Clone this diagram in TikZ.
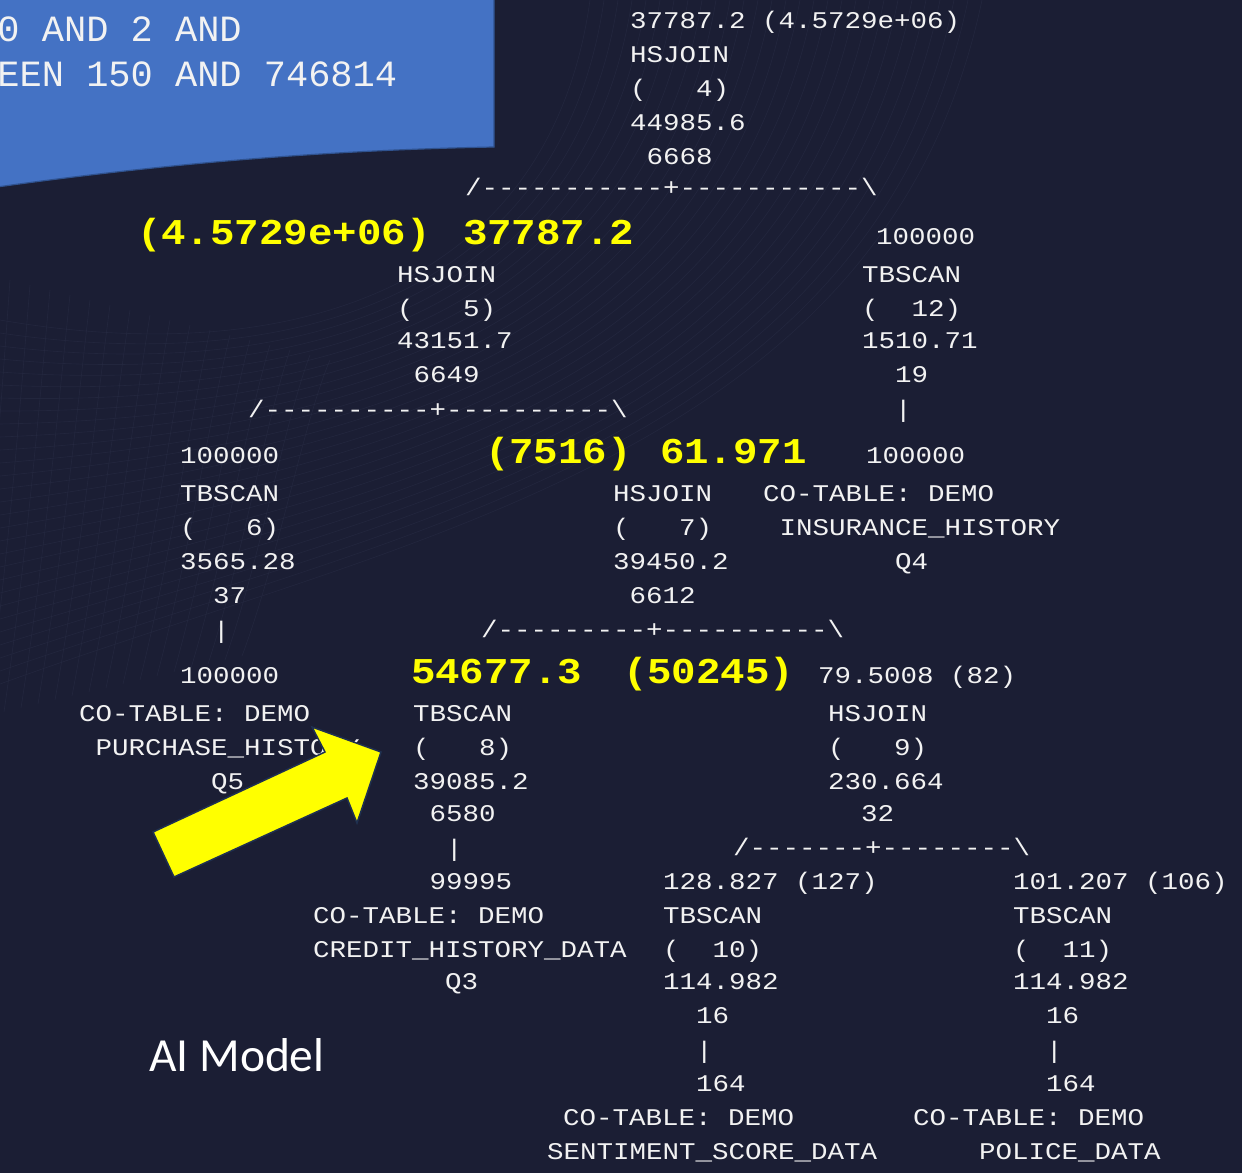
\documentclass[tikz,border=0pt]{standalone}
\usepackage{fontspec}
\usepackage{graphicx}
\newfontfamily\monof[Ligatures=TeXOff]{Liberation Mono}
\newfontfamily\calib{Carlito}
\definecolor{bgc}{HTML}{1B1E34}
\definecolor{meshc}{HTML}{262A42}
\definecolor{boxblue}{HTML}{4472C4}
\definecolor{boxedge}{HTML}{2F528F}
\definecolor{arrowedge}{HTML}{1F3050}
\definecolor{hiyel}{HTML}{FFFF00}
\definecolor{txtw}{HTML}{F2F2F2}
\tikzset{
  wtxt/.style={anchor=base west, inner sep=0pt, outer sep=0pt, text=txtw,
    font=\monof\fontsize{27.5}{33}\selectfont},
  ytxt/.style={anchor=base west, inner sep=0pt, outer sep=0pt, text=hiyel,
    font=\monof\bfseries\fontsize{40.8}{48}\selectfont},
  boxtxt/.style={anchor=base west, inner sep=0pt, outer sep=0pt, text=txtw,
    font=\monof\fontsize{37}{44}\selectfont},
  meshline/.style={draw=meshc, line width=0.6pt, opacity=0.7},
}
\newcommand\W[4]{\node[wtxt] (#1) at (#2,#3) {\scalebox{1}[0.87]{#4}};}
\newcommand\Y[4]{\node[ytxt] (#1) at (#2,#3) {\scalebox{1}[0.89]{#4}};}
\begin{document}
\begin{tikzpicture}[x=1pt,y=-1pt]
\useasboundingbox (0,0) rectangle (1242,1173);
\fill[bgc] (0,0) rectangle (1242,1173);
% faint background mesh
\foreach \i in {0,...,28} {
  \draw[meshline] (590+14*\i,0) .. controls (550+12*\i,290+6*\i) and (290+4*\i,370+6*\i) .. (0,320+13*\i);
}
\foreach \j in {0,...,16} {
  \draw[meshline] (10+20*\j,280+5*\j) .. controls (0+19*\j,420) and (-10+18*\j,560) .. (-30+17*\j,720-4*\j);
}
% blue box
\filldraw[fill=boxblue, draw=boxedge, line width=1.2pt]
  (-3,-3) -- (494,-3) -- (494,147) .. controls (330,150) and (170,163) .. (-3,187) -- cycle;
\node[boxtxt] (b1) at (-2.5,41) {0 AND 2 AND};
\node[boxtxt] (b2) at (-2.5,86) {EEN 150 AND 746814};
% top HSJOIN (4)
\W{n4a}{630}{28}{37787.2 (4.5729e+06)}
\W{n4b}{630}{62}{HSJOIN}
\W{n4c}{630}{96}{(~~~4)}
\W{n4d}{630}{130}{44985.6}
\W{n4e}{630}{164}{~6668}
\W{l4}{465}{195}{/-----------+-----------\textbackslash}
% HSJOIN (5)
\Y{y5a}{137}{244}{(4.5729e+06)}
\Y{y5b}{463}{244}{37787.2}
\W{n5b}{397}{282}{HSJOIN}
\W{n5c}{397}{316}{(~~~5)}
\W{n5d}{397}{348}{43151.7}
\W{n5e}{397}{382}{~6649}
\W{l5}{248}{417}{/----------+----------\textbackslash}
% TBSCAN (12)
\W{n12a}{876}{244}{100000}
\W{n12b}{862}{282}{TBSCAN}
\W{n12c}{862}{316}{(~~12)}
\W{n12d}{862}{348}{1510.71}
\W{n12e}{862}{382}{~~19}
\W{n12f}{862}{417}{~~|}
\W{q4a}{866}{463}{100000}
\W{q4b}{763}{501}{CO-TABLE: DEMO}
\W{q4c}{763}{535}{~INSURANCE\_HISTORY}
\W{q4d}{763}{569}{~~~~~~~~Q4}
% TBSCAN (6)
\W{n6a}{180}{463}{100000}
\W{n6b}{180}{501}{TBSCAN}
\W{n6c}{180}{535}{(~~~6)}
\W{n6d}{180}{569}{3565.28}
\W{n6e}{180}{603}{~~37}
\W{n6f}{180}{638}{~~|}
\W{q5a}{180}{683}{100000}
\W{q5b}{79}{721}{CO-TABLE: DEMO}
\W{q5c}{79}{755}{~PURCHASE\_HISTORY}
\W{q5d}{79}{789}{~~~~~~~~Q5}
% HSJOIN (7)
\Y{y7a}{485}{463}{(7516)}
\Y{y7b}{660}{463}{61.971}
\W{n7b}{613}{501}{HSJOIN}
\W{n7c}{613}{535}{(~~~7)}
\W{n7d}{613}{569}{39450.2}
\W{n7e}{613}{603}{~6612}
\W{l7}{481}{637}{/---------+----------\textbackslash}
% TBSCAN (8)
\Y{y8a}{411}{683}{54677.3}
\Y{y8b}{623}{683}{(50245)}
\W{n8b}{413}{721}{TBSCAN}
\W{n8c}{413}{755}{(~~~8)}
\W{n8d}{413}{789}{39085.2}
\W{n8e}{413}{821}{~6580}
\W{n8f}{413}{856}{~~|}
\W{q3a}{413}{889}{~99995}
\W{q3b}{313}{923}{CO-TABLE: DEMO}
\W{q3c}{313}{957}{CREDIT\_HISTORY\_DATA}
\W{q3d}{313}{989}{~~~~~~~~Q3}
% HSJOIN (9)
\W{n9a}{818}{683}{79.5008 (82)}
\W{n9b}{828}{721}{HSJOIN}
\W{n9c}{828}{755}{(~~~9)}
\W{n9d}{828}{789}{230.664}
\W{n9e}{828}{821}{~~32}
\W{l9}{733}{855}{/-------+--------\textbackslash}
% TBSCAN (10)
\W{n10a}{663}{889}{128.827 (127)}
\W{n10b}{663}{923}{TBSCAN}
\W{n10c}{663}{957}{(~~10)}
\W{n10d}{663}{989}{114.982}
\W{n10e}{663}{1023}{~~16}
\W{n10f}{663}{1058}{~~|}
\W{n10g}{663}{1091}{~~164}
\W{q10a}{563}{1125}{CO-TABLE: DEMO}
\W{q10b}{547}{1159}{SENTIMENT\_SCORE\_DATA}
% TBSCAN (11)
\W{n11a}{1013}{889}{101.207 (106)}
\W{n11b}{1013}{923}{TBSCAN}
\W{n11c}{1013}{957}{(~~11)}
\W{n11d}{1013}{989}{114.982}
\W{n11e}{1013}{1023}{~~16}
\W{n11f}{1013}{1058}{~~|}
\W{n11g}{1013}{1091}{~~164}
\W{q11a}{913}{1125}{CO-TABLE: DEMO}
\W{q11b}{913}{1159}{~~~~POLICE\_DATA}
% label
\node[anchor=base west, inner sep=0pt, text=white, font=\calib\fontsize{47.5}{56}\selectfont] (ai) at (149,1071) {AI Model};
% yellow block arrow
\filldraw[fill=hiyel, draw=arrowedge, line width=1.5pt, line join=miter]
  (153,832) -- (325,752) -- (312,727) -- (381,752) -- (357,823) -- (347,798) -- (174,877) -- cycle;
\end{tikzpicture}
\end{document}
